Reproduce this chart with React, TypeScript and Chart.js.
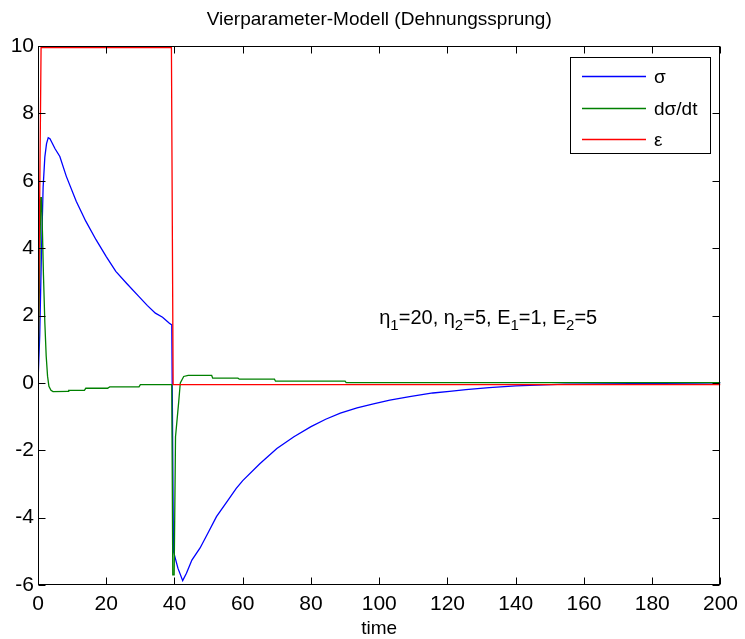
import React, { useEffect, useRef } from "react";
import { Chart, registerables } from "chart.js";

Chart.register(...registerables);

// Stress response σ(t)
const sigmaTime = [
  0, 0.5, 1, 1.5, 2, 2.5, 3, 3.5, 4, 5, 6.4, 8.3, 11.2, 14, 17, 20, 22.8, 26, 29.6, 32, 34.4, 36.5, 38.5, 39.2,
  39.7, 41, 42.4, 43.5, 45.1, 47.5, 50, 52.3, 55.7, 58.1, 60, 65, 70, 75, 80, 84.3, 88.6, 93.5, 98.3, 103.1,
  108.9, 115.7, 120.6, 125.4, 132.2, 140, 154.4, 193, 200,
];
const sigmaValues = [
  0, 1.4, 3.8, 5.8, 6.7, 7.1, 7.28, 7.25, 7.15, 6.95, 6.72, 6.13, 5.39, 4.8, 4.25, 3.75, 3.31, 2.95, 2.56, 2.3,
  2.07, 1.95, 1.77, 1.72, -5.0, -5.5, -5.87, -5.65, -5.26, -4.9, -4.42, -3.97, -3.48, -3.13, -2.9, -2.4, -1.95,
  -1.6, -1.3, -1.08, -0.9, -0.74, -0.62, -0.51, -0.41, -0.3, -0.25, -0.2, -0.14, -0.09, -0.04, -0.01, 0,
];

// Stress rate dσ/dt
const dSigmaTime = [
  0, 0.8, 1.0, 1.3, 1.6, 2.0, 2.4, 2.8, 3.2, 3.8, 4.4, 8.8, 9.0, 13.6, 14.0, 20.4, 21.0, 29.6, 30.0, 39.2, 39.5,
  39.9, 40.3, 41.2, 41.7, 42.7, 44.0, 50.9, 51.2, 58.6, 59.0, 69.3, 69.6, 90.0, 90.3, 200,
];
const dSigmaValues = [
  0, 5.5, 5.5, 4.5, 3.2, 1.8, 0.8, 0.2, -0.1, -0.22, -0.26, -0.25, -0.22, -0.22, -0.16, -0.16, -0.12, -0.12,
  -0.05, -0.05, -5.7, -5.7, -1.6, -0.6, 0, 0.19, 0.22, 0.22, 0.14, 0.14, 0.11, 0.11, 0.05, 0.05, 0.01, 0.01,
];

// Strain step ε(t)
const epsTime = [0, 0.9, 39.1, 39.6, 200];
const epsValues = [0, 9.95, 9.95, -0.05, -0.05];

const xTicks = [0, 20, 40, 60, 80, 100, 120, 140, 160, 180, 200];
const yTicks = [-6, -4, -2, 0, 2, 4, 6, 8, 10];

const seriesLabels = ["σ", "dσ/dt", "ε"];
const seriesColors = ["#0000ff", "#008000", "#ff0000"];

const titleText = "Vierparameter-Modell (Dehnungssprung)";
const xAxisLabel = "time";

// Parameter note, placed at (100, 2) in data units; sub = subscript
const noteX = 100;
const noteY = 2;
const noteParts: [string, boolean][] = [
  ["η", false], ["1", true], ["=20, ", false],
  ["η", false], ["2", true], ["=5, ", false],
  ["E", false], ["1", true], ["=1, ", false],
  ["E", false], ["2", true], ["=5", false],
];

const FONT = '"Liberation Sans", Arial, Helvetica, sans-serif';
const TEXT_SIZE = 19;
const TICK_SIZE = 21;
const NOTE_SIZE = 20;
const SUB_SIZE = 15;
const TICK_LEN = 7;

const toPoints = (xs: number[], ys: number[]) => xs.map((x, i) => ({ x, y: ys[i] }));

const axesFrame = {
  id: "axesFrame",
  afterDraw(chart: any) {
    const { ctx, chartArea: a, scales } = chart;
    const xs = scales.x;
    const ys = scales.y;
    ctx.save();
    ctx.strokeStyle = "#000";
    ctx.lineWidth = 1;

    const L = Math.round(a.left) + 0.5;
    const R = Math.round(a.right) - 0.5;
    const T = Math.round(a.top) + 0.5;
    const B = Math.round(a.bottom) - 0.5;
    ctx.strokeRect(L, T, R - L, B - T);

    // inward tick marks on all four sides
    ctx.beginPath();
    for (const v of xTicks) {
      const px = Math.round(xs.getPixelForValue(v)) + 0.5;
      ctx.moveTo(px, B);
      ctx.lineTo(px, B - TICK_LEN);
      ctx.moveTo(px, T);
      ctx.lineTo(px, T + TICK_LEN);
    }
    for (const v of yTicks) {
      const py = Math.round(ys.getPixelForValue(v)) + 0.5;
      ctx.moveTo(L, py);
      ctx.lineTo(L + TICK_LEN, py);
      ctx.moveTo(R, py);
      ctx.lineTo(R - TICK_LEN, py);
    }
    ctx.stroke();

    ctx.fillStyle = "#000";
    ctx.font = `${TEXT_SIZE}px ${FONT}`;

    // title
    ctx.textAlign = "center";
    ctx.textBaseline = "middle";
    ctx.fillText(titleText, (a.left + a.right) / 2, 20);

    // x-axis label
    ctx.fillText(xAxisLabel, (a.left + a.right) / 2, 629);

    // parameter note
    let nx = xs.getPixelForValue(noteX);
    const ny = ys.getPixelForValue(noteY);
    ctx.textAlign = "left";
    ctx.textBaseline = "alphabetic";
    for (const [txt, sub] of noteParts) {
      ctx.font = `${sub ? SUB_SIZE : NOTE_SIZE}px ${FONT}`;
      ctx.fillText(txt, nx, ny + 8 + (sub ? 6 : 0));
      nx += ctx.measureText(txt).width;
    }

    // legend box
    const lx = 570.5;
    const ly = 57.5;
    const lw = 140;
    const lh = 96;
    ctx.fillStyle = "#fff";
    ctx.fillRect(lx, ly, lw, lh);
    ctx.strokeStyle = "#000";
    ctx.strokeRect(lx, ly, lw, lh);
    ctx.font = `${TEXT_SIZE}px ${FONT}`;
    ctx.textBaseline = "middle";
    seriesLabels.forEach((label, i) => {
      const ry = 76 + i * 31.5;
      ctx.strokeStyle = seriesColors[i];
      ctx.lineWidth = 1.3;
      ctx.beginPath();
      ctx.moveTo(582, Math.round(ry) + 0.5);
      ctx.lineTo(646, Math.round(ry) + 0.5);
      ctx.stroke();
      ctx.fillStyle = "#000";
      ctx.fillText(label, 654, ry + 2);
    });

    ctx.restore();
  },
};

export default function App() {
  const canvasRef = useRef<HTMLCanvasElement | null>(null);

  useEffect(() => {
    const canvas = canvasRef.current;
    if (!canvas) return;
    const series = [
      toPoints(sigmaTime, sigmaValues),
      toPoints(dSigmaTime, dSigmaValues),
      toPoints(epsTime, epsValues),
    ];
    const chart = new Chart(canvas, {
      type: "line",
      data: {
        datasets: series.map((data, i) => ({
          label: seriesLabels[i],
          data,
          borderColor: seriesColors[i],
          backgroundColor: seriesColors[i],
          borderWidth: 1.3,
          pointRadius: 0,
          tension: 0,
          fill: false,
          order: 3 - i,
        })),
      },
      options: {
        animation: false,
        responsive: false,
        devicePixelRatio: 1,
        layout: { padding: { top: 46, right: 18, left: 0, bottom: 0 } },
        plugins: {
          legend: { display: false },
          title: { display: false },
          tooltip: { enabled: false },
        },
        scales: {
          x: {
            type: "linear",
            min: 0,
            max: 200,
            afterBuildTicks: (s: any) => {
              s.ticks = xTicks.map((value) => ({ value }));
            },
            afterFit: (s: any) => {
              s.height = 54;
            },
            grid: { display: false, drawTicks: false },
            border: { display: false },
            ticks: {
              padding: 7,
              color: "#000",
              maxRotation: 0,
              autoSkip: false,
              font: { family: FONT, size: TICK_SIZE },
            },
          },
          y: {
            type: "linear",
            min: -6,
            max: 10,
            afterBuildTicks: (s: any) => {
              s.ticks = yTicks.map((value) => ({ value }));
            },
            afterFit: (s: any) => {
              s.width = 38;
            },
            grid: { display: false, drawTicks: false },
            border: { display: false },
            ticks: {
              padding: 4,
              color: "#000",
              autoSkip: false,
              font: { family: FONT, size: TICK_SIZE },
            },
          },
        },
      },
      plugins: [axesFrame],
    });
    return () => chart.destroy();
  }, []);

  return (
    <div style={{ position: "fixed", left: 0, top: 0, width: 745, height: 639, background: "#fff" }}>
      <canvas ref={canvasRef} width={745} height={639} style={{ display: "block" }} />
    </div>
  );
}
